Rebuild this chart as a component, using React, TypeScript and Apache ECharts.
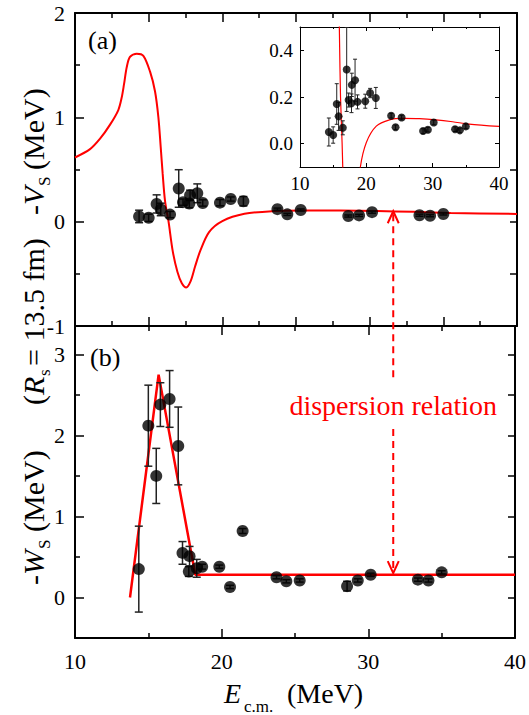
import React, { useEffect, useRef } from 'react';
import * as echarts from 'echarts';

const SERIF = 'serif';

// Measured energies (MeV), shared by both panels
const energy = [14.35, 15.0, 15.54, 15.82, 16.45, 17.04, 17.33, 17.76, 17.81, 18.3, 18.67, 19.84, 20.57, 21.43, 23.74, 24.41, 25.32, 28.55, 29.28, 30.16, 33.38, 34.1, 35.0];
// -V_S points and errors
const vsValues = [0.05, 0.037, 0.17, 0.117, 0.068, 0.318, 0.187, 0.173, 0.252, 0.272, 0.179, 0.182, 0.217, 0.196, 0.12, 0.07, 0.112, 0.054, 0.06, 0.091, 0.062, 0.057, 0.074];
const vsErrors = [0.06, 0.035, 0.087, 0.06, 0.03, 0.18, 0.03, 0.04, 0.05, 0.09, 0.03, 0.03, 0.02, 0.045, 0.01, 0.01, 0.01, 0.01, 0.01, 0.01, 0.01, 0.01, 0.01];
// -W_S points and errors
const wsValues = [0.35, 2.12, 1.5, 2.38, 2.45, 1.87, 0.55, 0.32, 0.51, 0.36, 0.38, 0.38, 0.13, 0.82, 0.25, 0.2, 0.21, 0.14, 0.21, 0.28, 0.22, 0.21, 0.31];
const wsErrors = [0.53, 0.5, 0.34, 0.27, 0.35, 0.48, 0.14, 0.06, 0.12, 0.11, 0.03, 0.02, 0.02, 0.03, 0.02, 0.02, 0.02, 0.06, 0.02, 0.02, 0.02, 0.02, 0.02];

// Dispersion-relation curve for -V_S
const vsCurveE = [10, 11.02, 11.7, 12.38, 12.94, 13.17, 13.33, 13.51, 13.73, 14.19, 14.64, 15.09, 15.43, 15.66, 15.82, 15.95, 16.11, 16.35, 16.63, 16.95, 17.25, 17.55, 17.85, 18.15, 18.5, 19.1, 20.0, 21.5, 23.5, 25.5, 28, 30.5, 33, 35.5, 40];
const vsCurveV = [0.615, 0.695, 0.795, 0.93, 1.07, 1.19, 1.32, 1.48, 1.58, 1.61, 1.59, 1.44, 1.25, 1.0, 0.71, 0.46, 0.2, 0, -0.28, -0.48, -0.59, -0.63, -0.57, -0.43, -0.28, -0.1, 0.005, 0.075, 0.102, 0.108, 0.107, 0.102, 0.094, 0.084, 0.074];
// Piecewise-linear -W_S
const wsCurveE = [13.75, 15.7, 18.2, 40];
const wsCurveV = [0, 2.75, 0.28, 0.28];

const xTicksMain = [10, 20, 30, 40];
const wsTickValues = [0, 1, 2, 3];
const wsMinorTickValues = [0.5, 1.5, 2.5];
const insetTickValues = [0, 0.2, 0.4];

const arrowEnergy = 31.6;
const arrowTopValue = 0.1;
const arrowBottomValue = 0.3;

const zip = (a: number[], b: number[]) => a.map((v, i) => [v, b[i]]);
const zip3 = (a: number[], b: number[], c: number[]) => a.map((v, i) => [v, b[i], c[i]]);

const BLACK = '#000';
const RED = '#ff0000';

function xAxisDef(gridIndex: number, position: 'top' | 'bottom', interval: number, showLabel: boolean, inset = false) {
  return {
    type: 'value', gridIndex, position, min: 10, max: 40, interval,
    axisLine: { show: true, onZero: false, lineStyle: { color: BLACK, width: inset ? 1 : 2 } },
    axisTick: { show: true, inside: true, length: inset ? 4 : 9, lineStyle: { color: BLACK, width: inset ? 1 : 1.5 } },
    minorTick: { show: true, splitNumber: 2, length: inset ? 2 : 5, lineStyle: { color: BLACK, width: inset ? 1 : 1.5 } },
    axisLabel: { show: showLabel, margin: inset ? 7 : 12, fontFamily: SERIF, fontSize: inset ? 19 : 22, color: BLACK,
      customValues: showLabel && !inset ? xTicksMain : undefined },
    splitLine: { show: false },
  };
}

function errorBarSeries(xIdx: number, yIdx: number, data: number[][], cap: number, width: number) {
  return {
    type: 'custom', xAxisIndex: xIdx, yAxisIndex: yIdx, clip: true, z: 3,
    data,
    encode: { x: 0, y: 1 },
    renderItem: (params: any, api: any) => {
      const x = api.value(0), y = api.value(1), e = api.value(2);
      const t = api.coord([x, y + e]);
      const b = api.coord([x, y - e]);
      const st = { stroke: '#222', lineWidth: width };
      return {
        type: 'group',
        children: [
          { type: 'line', shape: { x1: t[0], y1: t[1], x2: b[0], y2: b[1] }, style: st },
          { type: 'line', shape: { x1: t[0] - cap, y1: t[1], x2: t[0] + cap, y2: t[1] }, style: st },
          { type: 'line', shape: { x1: b[0] - cap, y1: b[1], x2: b[0] + cap, y2: b[1] }, style: st },
        ],
      };
    },
  };
}

export default function App() {
  const ref = useRef<HTMLDivElement>(null);
  useEffect(() => {
    document.body.style.margin = '0';
    const chart = echarts.init(ref.current!, null, { renderer: 'svg' });
    const option: any = {
      animation: false,
      backgroundColor: '#fff',
      textStyle: { fontFamily: SERIF },
      grid: [
        { left: 75, top: 13, width: 442, height: 313 },
        { left: 75, top: 326, width: 442, height: 312 },
        { left: 300, top: 27, width: 199, height: 140 },
      ],
      xAxis: [
        xAxisDef(0, 'bottom', 5, false),
        xAxisDef(0, 'top', 5, false),
        xAxisDef(1, 'bottom', 10, true),
        xAxisDef(1, 'top', 10, false),
        xAxisDef(2, 'bottom', 10, true, true),
        xAxisDef(2, 'top', 10, false, true),
      ],
      yAxis: [
        {
          type: 'value', gridIndex: 0, position: 'left', min: -1, max: 2, interval: 1,
          axisLine: { show: true, onZero: false, lineStyle: { color: BLACK, width: 2 } },
          axisTick: { show: true, inside: true, length: 9, lineStyle: { color: BLACK, width: 1.5 } },
          minorTick: { show: true, splitNumber: 2, length: 5, lineStyle: { color: BLACK, width: 1.5 } },
          axisLabel: { margin: 10, fontFamily: SERIF, fontSize: 22, color: BLACK },
          splitLine: { show: false },
        },
        {
          type: 'value', gridIndex: 0, position: 'right', min: -1, max: 2, interval: 0.5,
          axisLine: { show: true, onZero: false, lineStyle: { color: BLACK, width: 2 } },
          axisTick: { show: true, inside: true, length: 7, lineStyle: { color: BLACK, width: 1.5 } },
          axisLabel: { show: false }, splitLine: { show: false },
        },
        {
          type: 'value', gridIndex: 1, position: 'left', min: -0.5, max: 3.35,
          axisLine: { show: true, onZero: false, lineStyle: { color: BLACK, width: 2 } },
          axisTick: { show: true, inside: true, length: 9, customValues: wsTickValues, lineStyle: { color: BLACK, width: 1.5 } },
          axisLabel: { margin: 10, fontFamily: SERIF, fontSize: 22, color: BLACK, customValues: wsTickValues },
          splitLine: { show: false },
        },
        {
          type: 'value', gridIndex: 1, position: 'left', offset: 0, min: -0.5, max: 3.35,
          axisLine: { show: false },
          axisTick: { show: true, inside: true, length: 5, customValues: wsMinorTickValues, lineStyle: { color: BLACK, width: 1.5 } },
          axisLabel: { show: false }, splitLine: { show: false },
        },
        {
          type: 'value', gridIndex: 1, position: 'right', min: -0.5, max: 3.35, interval: 0.5,
          axisLine: { show: true, onZero: false, lineStyle: { color: BLACK, width: 2 } },
          axisTick: { show: true, inside: true, length: 7, lineStyle: { color: BLACK, width: 1.5 } },
          axisLabel: { show: false }, splitLine: { show: false },
        },
        {
          type: 'value', gridIndex: 2, position: 'left', min: -0.1, max: 0.5,
          axisLine: { show: true, onZero: false, lineStyle: { color: BLACK, width: 1 } },
          axisTick: { show: true, inside: true, length: 4, customValues: insetTickValues, lineStyle: { color: BLACK, width: 1 } },
          axisLabel: { margin: 7, fontFamily: SERIF, fontSize: 19, color: BLACK, customValues: insetTickValues,
            formatter: (v: number) => v.toFixed(1) },
          splitLine: { show: false },
        },
        {
          type: 'value', gridIndex: 2, position: 'right', min: -0.1, max: 0.5,
          axisLine: { show: true, onZero: false, lineStyle: { color: BLACK, width: 1 } },
          axisTick: { show: true, inside: true, length: 4, customValues: insetTickValues, lineStyle: { color: BLACK, width: 1 } },
          axisLabel: { show: false }, splitLine: { show: false },
        },
      ],
      series: [
        // panel (a)
        { type: 'line', xAxisIndex: 0, yAxisIndex: 0, data: zip(vsCurveE, vsCurveV), showSymbol: false, symbol: 'none',
          smooth: 0.3, lineStyle: { color: RED, width: 2 }, z: 2, clip: true },
        errorBarSeries(0, 0, zip3(energy, vsValues, vsErrors), 4, 1.5),
        { type: 'scatter', xAxisIndex: 0, yAxisIndex: 0, data: zip(energy, vsValues), symbolSize: 12,
          itemStyle: { color: BLACK }, z: 4 },
        // panel (b)
        { type: 'line', xAxisIndex: 2, yAxisIndex: 2, data: zip(wsCurveE, wsCurveV), showSymbol: false, symbol: 'none',
          lineStyle: { color: RED, width: 2.5 }, z: 2, clip: true },
        errorBarSeries(2, 2, zip3(energy, wsValues, wsErrors), 4, 1.5),
        { type: 'scatter', xAxisIndex: 2, yAxisIndex: 2, data: zip(energy, wsValues), symbolSize: 12,
          itemStyle: { color: BLACK }, z: 4 },
        // inset
        { type: 'line', xAxisIndex: 4, yAxisIndex: 5, data: zip(vsCurveE, vsCurveV), showSymbol: false, symbol: 'none',
          smooth: 0.3, lineStyle: { color: RED, width: 1.2 }, z: 2, clip: true },
        errorBarSeries(4, 5, zip3(energy, vsValues, vsErrors), 2, 1),
        { type: 'scatter', xAxisIndex: 4, yAxisIndex: 5, data: zip(energy, vsValues), symbolSize: 8,
          itemStyle: { color: BLACK }, z: 4 },
      ],
    };
    chart.setOption(option);

    const pa = chart.convertToPixel({ xAxisIndex: 0, yAxisIndex: 0 }, [arrowEnergy, arrowTopValue]) as number[];
    const pb = chart.convertToPixel({ xAxisIndex: 2, yAxisIndex: 2 }, [arrowEnergy, arrowBottomValue]) as number[];
    const ax = pa[0];
    const textY = 405;
    const red = { stroke: RED, lineWidth: 2 };
    const dashed = { stroke: RED, lineWidth: 2, lineDash: [7, 5] };
    const rot = (x: number, y: number, text: string, size: number, rich?: any) => ({
      type: 'text', x, y, rotation: Math.PI / 2, z: 10,
      style: { text, fontSize: size, fontFamily: SERIF, fill: BLACK, align: 'left', verticalAlign: 'middle', rich },
    });
    const richVW = { n: { fontSize: 30, fontFamily: SERIF }, i: { fontSize: 30, fontFamily: SERIF, fontStyle: 'italic' } };

    chart.setOption({
      graphic: [
        // dispersion arrow
        { type: 'line', z: 10, shape: { x1: ax, y1: pa[1] + 3, x2: ax, y2: textY - 24 }, style: dashed },
        { type: 'line', z: 10, shape: { x1: ax, y1: textY + 24, x2: ax, y2: pb[1] - 3 }, style: dashed },
        { type: 'polyline', z: 10, shape: { points: [[ax - 5.5, pa[1] + 12], [ax, pa[1]], [ax + 5.5, pa[1] + 12]] }, style: { ...red, fill: 'none' } },
        { type: 'polyline', z: 10, shape: { points: [[ax - 5.5, pb[1] - 12], [ax, pb[1]], [ax + 5.5, pb[1] - 12]] }, style: { ...red, fill: 'none' } },
        { type: 'text', z: 10, x: ax, y: textY, style: { text: 'dispersion relation', fontFamily: SERIF, fontSize: 28, fill: RED, align: 'center', verticalAlign: 'middle' } },
        // panel tags
        { type: 'text', x: 88, y: 40, style: { text: '(a)', fontFamily: SERIF, fontSize: 26, fill: BLACK, align: 'left', verticalAlign: 'middle' } },
        { type: 'text', x: 90, y: 357, style: { text: '(b)', fontFamily: SERIF, fontSize: 26, fill: BLACK, align: 'left', verticalAlign: 'middle' } },
        // x title
        { type: 'text', x: 224, y: 693, style: { text: 'E', fontFamily: SERIF, fontSize: 28, fontStyle: 'italic', fill: BLACK, align: 'left', verticalAlign: 'middle' } },
        { type: 'text', x: 244, y: 706, style: { text: 'c.m.', fontFamily: SERIF, fontSize: 17, fill: BLACK, align: 'left', verticalAlign: 'middle' } },
        { type: 'text', x: 287, y: 693, style: { text: '(MeV)', fontFamily: SERIF, fontSize: 28, fill: BLACK, align: 'left', verticalAlign: 'middle' } },
        // y title: -W_S (MeV)
        rot(33, 585, '{n|-}{i|W}', 30, richVW),
        rot(44, 549, 'S', 17),
        rot(33, 532, '(MeV)', 30),
        // (R_s = 13.5 fm)
        rot(33, 405, '{n|(}{i|R}', 30, richVW),
        rot(44, 376, 's', 17),
        rot(33, 366, '= 13.5 fm)', 30),
        // -V_S (MeV)
        rot(33, 215, '{n|-}{i|V}', 30, richVW),
        rot(44, 186, 'S', 17),
        rot(33, 170, '(MeV)', 30),
      ],
    });
    return () => chart.dispose();
  }, []);
  return <div ref={ref} style={{ width: 529, height: 715 }} />;
}
